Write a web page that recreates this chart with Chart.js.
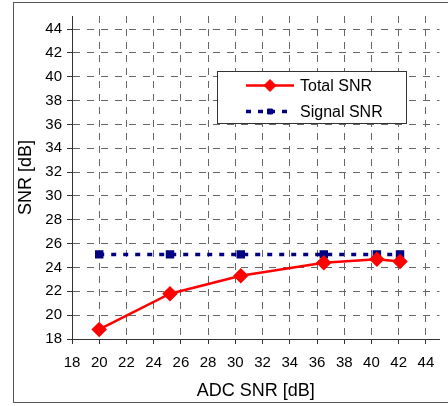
<!DOCTYPE html>
<html>
<head>
<meta charset="utf-8">
<script src="https://cdn.jsdelivr.net/npm/chart.js@4/dist/chart.umd.min.js"></script>
<style>
  html, body { margin: 0; padding: 0; background: #fff; overflow: hidden; }
  #wrap { position: absolute; left: 0; top: 0; width: 448px; height: 406px; }
</style>
</head>
<body>
<div id="wrap"><canvas id="c" width="448" height="406"></canvas></div>
<script>
// ---- data ----
const seriesNames = ['Total SNR', 'Signal SNR'];
const adcSnr = [20, 25.2, 30.4, 36.5, 40.4, 42.1];
const totalSnr = [18.8, 21.8, 23.3, 24.4, 24.7, 24.5];
const signalSnr = [25.1, 25.1, 25.1, 25.1, 25.1, 25.1];
const xTickValues = [18, 20, 22, 24, 26, 28, 30, 32, 34, 36, 38, 40, 42, 44];
const yTickValues = [18, 20, 22, 24, 26, 28, 30, 32, 34, 36, 38, 40, 42, 44];
const xTitle = 'ADC SNR [dB]';
const yTitle = 'SNR [dB]';

const FONT = 'Arial, "Liberation Sans", Helvetica, sans-serif';

const toPoints = (xs, ys) => xs.map((x, i) => ({ x: x, y: ys[i] }));

// outer frame
const framePlugin = {
  id: 'frame',
  beforeDraw(chart) {
    const ctx = chart.ctx;
    ctx.save();
    ctx.fillStyle = '#fff';
    ctx.fillRect(0, 0, chart.width, chart.height);
    ctx.strokeStyle = '#555';
    ctx.lineWidth = 1;
    ctx.strokeRect(13.5, 2.5, 600, 400);
    ctx.restore();
  }
};

// legend box inside plot
const boxLegend = {
  id: 'boxLegend',
  afterDatasetsDraw(chart) {
    const ctx = chart.ctx;
    const bx = 217.5, by = 71.5, bw = 189, bh = 52;
    ctx.save();
    ctx.fillStyle = '#fff';
    ctx.fillRect(bx, by, bw, bh);
    ctx.strokeStyle = '#333';
    ctx.lineWidth = 1;
    ctx.strokeRect(bx, by, bw, bh);
    const rows = [85.5, 111.5];
    chart.data.datasets.forEach((ds, i) => {
      const y = rows[i];
      const x1 = 246, x2 = 294, xm = 270;
      ctx.save();
      ctx.strokeStyle = ds.borderColor;
      ctx.lineWidth = ds.borderWidth;
      ctx.setLineDash(ds.borderDash || []);
      ctx.beginPath();
      ctx.moveTo(x1, y);
      ctx.lineTo(x2, y);
      ctx.stroke();
      ctx.setLineDash([]);
      ctx.fillStyle = ds.pointBackgroundColor;
      ctx.strokeStyle = ds.pointBorderColor;
      ctx.lineWidth = 1;
      Chart.helpers.drawPoint(ctx, { pointStyle: ds.pointStyle, rotation: 0, borderWidth: 1, radius: ds.pointRadius }, xm, y);
      ctx.restore();
      ctx.fillStyle = '#000';
      ctx.font = '16px ' + FONT;
      ctx.textBaseline = 'middle';
      ctx.textAlign = 'left';
      ctx.fillText(ds.label, 300, y + 1);
    });
    ctx.restore();
  }
};

new Chart(document.getElementById('c'), {
  type: 'scatter',
  data: {
    datasets: [
      {
        label: seriesNames[0],
        data: toPoints(adcSnr, totalSnr),
        showLine: true,
        borderColor: '#ff0000',
        borderWidth: 2.5,
        pointStyle: 'rectRot',
        pointRadius: 6,
        pointHoverRadius: 6,
        pointBackgroundColor: '#ff0000',
        pointBorderColor: '#ff0000',
        order: 1
      },
      {
        label: seriesNames[1],
        data: toPoints(adcSnr, signalSnr),
        showLine: true,
        borderColor: '#000080',
        borderWidth: 3.5,
        borderDash: [5, 7],
        pointStyle: 'rect',
        pointRadius: 3.5,
        pointHoverRadius: 3.5,
        pointBackgroundColor: '#000080',
        pointBorderColor: '#000080',
        order: 2
      }
    ]
  },
  options: {
    responsive: false,
    devicePixelRatio: 1,
    animation: false,
    layout: { padding: { left: 0, right: 3, top: 16, bottom: 0 } },
    plugins: { legend: { display: false }, tooltip: { enabled: false } },
    scales: {
      x: {
        type: 'linear',
        min: 18, max: 45,
        afterBuildTicks: (s) => { s.ticks = xTickValues.map(v => ({ value: v })); },
        afterFit: (s) => { s.height = 67; },
        grid: { color: '#666', lineWidth: 1, tickLength: 5, tickColor: '#333', tickBorderDash: [] },
        border: { display: true, color: '#333', width: 1, dash: [7, 6] },
        ticks: { color: '#000', font: { family: FONT, size: 15 }, padding: 10, maxRotation: 0, autoSkip: false },
        title: { display: true, text: xTitle, color: '#000', font: { family: FONT, size: 18 }, padding: { top: 0, bottom: 4 } }
      },
      y: {
        type: 'linear',
        min: 18, max: 45.1,
        afterBuildTicks: (s) => { s.ticks = yTickValues.map(v => ({ value: v })); },
        afterFit: (s) => { s.width = 72; },
        grid: { color: '#666', lineWidth: 1, tickLength: 5, tickColor: '#333', tickBorderDash: [] },
        border: { display: true, color: '#333', width: 1, dash: [7, 7] },
        ticks: { color: '#000', font: { family: FONT, size: 15 }, padding: 5, autoSkip: false },
        title: { display: true, text: yTitle, color: '#000', font: { family: FONT, size: 18 }, padding: { top: 15, bottom: 0 } }
      }
    }
  },
  plugins: [framePlugin, boxLegend]
});
</script>
</body>
</html>
